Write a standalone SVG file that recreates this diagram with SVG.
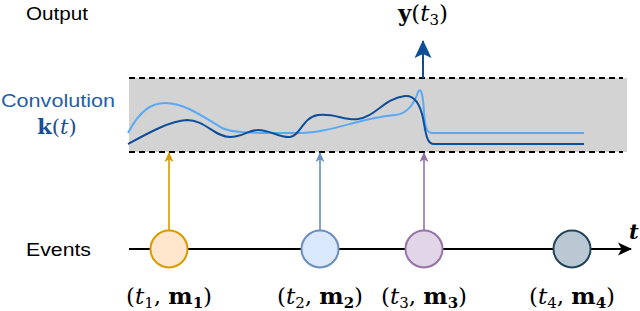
<svg xmlns="http://www.w3.org/2000/svg" width="640" height="311" viewBox="0 0 640 311">
<style>
.lbl{font-family:"Liberation Sans",Arial,sans-serif;font-size:18px;fill:#000}
.math{font-family:"DejaVu Serif","Liberation Serif",serif;font-size:23px;fill:#000}
.it{font-style:italic}
.bf{font-weight:bold}
.sub{font-size:15px}
.dash{stroke:#000;stroke-width:2;stroke-dasharray:6,4;fill:none}
.ev{stroke-width:1.6}
</style>
<defs>
<marker id="ahO" markerWidth="10" markerHeight="10" refX="9" refY="5" orient="auto" markerUnits="userSpaceOnUse"><path d="M0,0.5 L10,5 L0,9.5 L2.5,5 z" fill="#d79b00"/></marker>
<marker id="ahB" markerWidth="10" markerHeight="10" refX="9" refY="5" orient="auto" markerUnits="userSpaceOnUse"><path d="M0,0.5 L10,5 L0,9.5 L2.5,5 z" fill="#6c8ebf"/></marker>
<marker id="ahP" markerWidth="10" markerHeight="10" refX="9" refY="5" orient="auto" markerUnits="userSpaceOnUse"><path d="M0,0.5 L10,5 L0,9.5 L2.5,5 z" fill="#9673a6"/></marker>
<marker id="ahK" markerWidth="14" markerHeight="14" refX="13" refY="7" orient="auto" markerUnits="userSpaceOnUse"><path d="M0,0.5 L14,7 L0,13.5 L3.5,7 z" fill="#000"/></marker>
<marker id="ahY" markerWidth="18" markerHeight="18" refX="17" refY="9" orient="auto" markerUnits="userSpaceOnUse"><path d="M0,0.5 L18,9 L0,17.5 L4,9 z" fill="#0d4e9a"/></marker>
</defs>

<g id="labels">
<text class="lbl" x="26" y="20" textLength="62" lengthAdjust="spacingAndGlyphs">Output</text>
<text class="lbl" x="1" y="107" style="fill:#1f5fa8" textLength="114" lengthAdjust="spacingAndGlyphs">Convolution</text>
<text class="math" x="57" y="134" text-anchor="middle" style="fill:#1a4f8f;font-size:21px"><tspan class="bf">k</tspan>(<tspan class="it">t</tspan>)</text>
<text class="lbl" x="26" y="256" textLength="65" lengthAdjust="spacingAndGlyphs">Events</text>
</g>

<g id="convolution-band">
<rect x="129" y="78" width="498" height="74" fill="#d3d3d3"/>
<line class="dash" x1="129" y1="78" x2="623" y2="78"/>
<line class="dash" x1="129" y1="152" x2="623" y2="152"/>
<path d="M128,133 C140,110 152,103 165,103 C185,103 205,118 222,128 C232,133 250,133 300,133 C330,133 360,118 395,115 C408,114 414,104 418,92 C421,86 423,95 424,112 C425,128 427,133 432,133 L584,133" fill="none" stroke="#5aa9f5" stroke-width="2"/>
<path d="M128,144 C150,132 170,121 187,120 C205,120 215,137 230,137 C243,137 248,130 258,130 C270,130 280,138 290,137 C300,136 303,117 318,115 C335,113 345,121 358,119 C375,117 385,98 405,96 C415,95 420,104 423,118 C426,135 427,144 434,144 L584,144" fill="none" stroke="#0d4e9a" stroke-width="2"/>
</g>

<g id="connectors">
<line x1="129" y1="249" x2="631" y2="249" stroke="#000" stroke-width="2" marker-end="url(#ahK)"/>
<line class="ev" x1="169" y1="230" x2="169" y2="153" stroke="#d79b00" marker-end="url(#ahO)"/>
<line class="ev" x1="320" y1="230" x2="320" y2="153" stroke="#6c8ebf" marker-end="url(#ahB)"/>
<line class="ev" x1="424" y1="230" x2="424" y2="153" stroke="#9673a6" marker-end="url(#ahP)"/>
<line x1="423" y1="78" x2="423" y2="41" stroke="#0d4e9a" stroke-width="2" marker-end="url(#ahY)"/>
</g>

<g id="e1"><circle cx="169" cy="249" r="18.5" fill="#ffe6cc" stroke="#d79b00" stroke-width="2"/>
<text class="math" x="169" y="304" text-anchor="middle">(<tspan class="it">t</tspan><tspan class="sub" dy="4">1</tspan><tspan dy="-4">, </tspan><tspan class="bf">m</tspan><tspan class="sub bf" dy="4">1</tspan><tspan dy="-4">)</tspan></text></g>
<g id="e2"><circle cx="320" cy="249" r="18.5" fill="#dae8fc" stroke="#6c8ebf" stroke-width="2"/>
<text class="math" x="320" y="304" text-anchor="middle">(<tspan class="it">t</tspan><tspan class="sub" dy="4">2</tspan><tspan dy="-4">, </tspan><tspan class="bf">m</tspan><tspan class="sub bf" dy="4">2</tspan><tspan dy="-4">)</tspan></text></g>
<g id="e3"><circle cx="424" cy="249" r="18.5" fill="#e1d5e7" stroke="#9673a6" stroke-width="2"/>
<text class="math" x="424" y="304" text-anchor="middle">(<tspan class="it">t</tspan><tspan class="sub" dy="4">3</tspan><tspan dy="-4">, </tspan><tspan class="bf">m</tspan><tspan class="sub bf" dy="4">3</tspan><tspan dy="-4">)</tspan></text></g>
<g id="e4"><circle cx="572" cy="249" r="18.5" fill="#bac8d3" stroke="#23445d" stroke-width="2"/>
<text class="math" x="572" y="304" text-anchor="middle">(<tspan class="it">t</tspan><tspan class="sub" dy="4">4</tspan><tspan dy="-4">, </tspan><tspan class="bf">m</tspan><tspan class="sub bf" dy="4">4</tspan><tspan dy="-4">)</tspan></text></g>

<g id="output-label">
<text class="math" x="423" y="21" text-anchor="middle"><tspan class="bf">y</tspan>(<tspan class="it">t</tspan><tspan class="sub" dy="4">3</tspan><tspan dy="-4">)</tspan></text>
</g>
<text class="math it bf" x="629" y="239" style="font-size:21px">t</text>
</svg>
